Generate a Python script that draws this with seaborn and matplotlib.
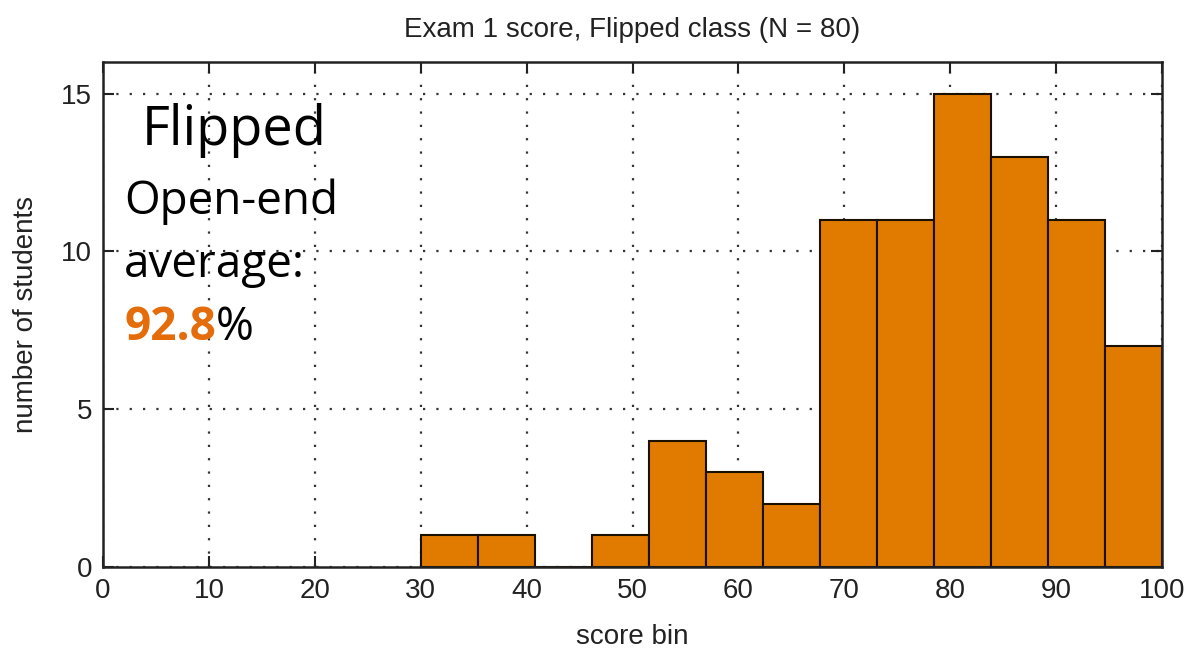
import matplotlib
matplotlib.use("Agg")
import matplotlib.pyplot as plt
import seaborn as sns

# Exam 1 histogram, flipped class (13 bins from 30 to 100)
bin_centers = [32.7, 38.1, 43.5, 48.8, 54.2, 59.6, 65.0, 70.4, 75.8, 81.2, 86.5, 91.9, 97.3]
counts = [1, 1, 0, 1, 4, 3, 2, 11, 11, 15, 13, 11, 7]
n_bins = 13
bin_range = (30, 100)
x_ticks = [0, 10, 20, 30, 40, 50, 60, 70, 80, 90, 100]
y_ticks = [0, 5, 10, 15]
title = "Exam 1 score, Flipped class (N = 80)"
open_end_avg = "92.8"

bar_color = "#E07B00"
text_orange = "#E46C0A"
ink = "#222222"

sns.set_style("white")
plt.rcParams["font.family"] = ["Liberation Sans", "DejaVu Sans"]

fig = plt.figure(figsize=(11.95, 6.5), dpi=100)
ax = fig.add_axes([0.0862, 0.1277, 0.8862, 0.7769])

sns.histplot(
    x=bin_centers,
    weights=counts,
    bins=n_bins,
    binrange=bin_range,
    color=bar_color,
    edgecolor="#1a1000",
    linewidth=1.5,
    alpha=1,
    ax=ax,
    zorder=2,
)

ax.set_xlim(0, 100)
ax.set_ylim(0, 16)
ax.set_xticks(x_ticks)
ax.set_yticks(y_ticks)
ax.set_xticklabels([str(t) for t in x_ticks], fontsize=20)
ax.set_yticklabels([str(t) for t in y_ticks], fontsize=20)
ax.tick_params(direction="in", length=8, width=1.5, top=True, right=True,
               bottom=True, left=True, pad=8, colors=ink)
for s in ax.spines.values():
    s.set_visible(True)
    s.set_color(ink)
    s.set_linewidth(1.8)

ax.grid(True, color="#333333", linestyle=(0, (1, 5)), linewidth=1.6, zorder=0)
ax.set_axisbelow(True)

ax.set_xlabel("score bin", fontsize=20, color=ink, labelpad=14)
ax.set_ylabel("number of students", fontsize=20, color=ink, labelpad=16)
ax.set_title(title, fontsize=20, color=ink, pad=18)

# slide annotation
tfont = ["Open Sans", "DejaVu Sans"]
ax.text(3.7, 13.36, "Flipped", fontsize=39, family=tfont, va="baseline",
        ha="left", color="black")
ax.text(2.0, 11.2, "Open-end", fontsize=33, family=tfont, va="baseline",
        ha="left", color="black")
ax.text(2.0, 9.2, "average:", fontsize=33, family=tfont, va="baseline",
        ha="left", color="black")
num = ax.text(2.0, 7.2, open_end_avg, fontsize=33, family=tfont, va="baseline",
              ha="left", color=text_orange, fontweight="bold")
ax.annotate("%", xy=(1, 0), xycoords=num, fontsize=33, family=tfont,
            va="bottom", ha="left", color="black")

fig.savefig("out.png", dpi=100, facecolor="white")
